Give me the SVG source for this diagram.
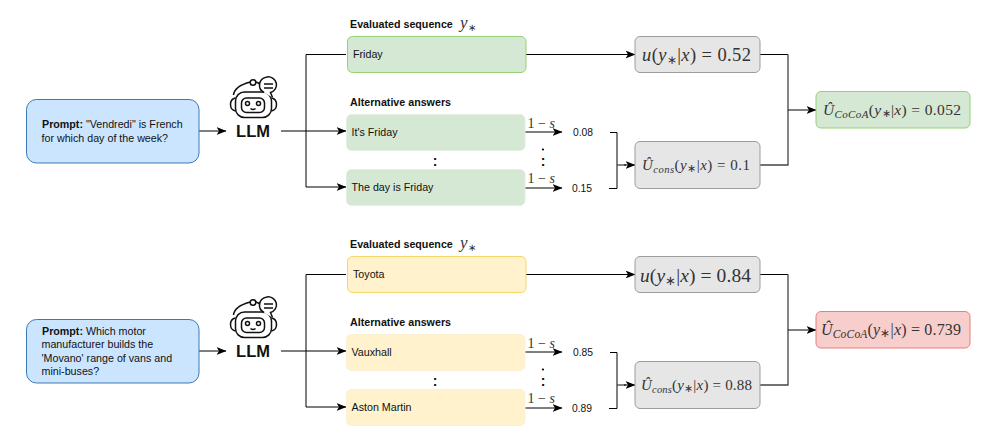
<svg xmlns="http://www.w3.org/2000/svg" width="996" height="437" viewBox="0 0 996 437">
<style>
text{font-family:"Liberation Sans",Arial,sans-serif;font-size:10.7px;fill:#111}
.b{font-weight:bold}
.llm{font-weight:bold;font-size:16.500px;text-anchor:middle;fill:#111}
.m{font-family:"Liberation Serif","Times New Roman",serif;fill:#333}
.i{font-style:italic}
.v{font-size:10.300px}
.s{font-size:14px}
.dots{font-weight:bold;font-size:14px;text-anchor:middle}
.prompt{fill:#cce5ff;stroke:#3b78b5}
.green{fill:#d5e8d4;stroke:#97d077}
.alt{fill:#d5e8d4;stroke:#e4efe2}
.yellow{fill:#fff2cc;stroke:#f5d76a}
.altY{fill:#fff2cc;stroke:#fbf0d2}
.grey{fill:#e6e6e6;stroke:#9c9c9c}
.red{fill:#f8cecc;stroke:#ea7f7a}
.c{fill:none;stroke:#000;stroke-width:1}
.c2{fill:none;stroke:#444;stroke-width:1.300}
.ic{fill:none;stroke:#111;stroke-width:1.500}
</style>
<defs>
<marker id="a" viewBox="0 0 10 8" refX="9.5" refY="4" markerWidth="10" markerHeight="8" markerUnits="userSpaceOnUse" orient="auto"><path d="M0 0L10 4L0 8L2.500 4Z" fill="#000"/></marker>
<g id="robot">
<rect x="235.500" y="92" width="36" height="25.500" rx="9" class="ic"/>
<rect x="241.500" y="98" width="23" height="14.500" rx="5" class="ic"/>
<circle cx="247.500" cy="103.500" r="2" class="ic"/>
<circle cx="258.500" cy="103.500" r="2" class="ic"/>
<path d="M250.500 108.500q2.500 2 5 0" class="ic"/>
<path d="M235.500 98q-5 1-5 6.500t5 6.500M271.500 98q5 1 5 6.500t-5 6.500" class="ic"/>
<path d="M233.500 95q1-9 17-13M256 82q3 1 5 3" class="ic"/>
<circle cx="253" cy="82.500" r="2.800" class="ic"/>
<path d="M264 92.500q-5-3-4.500-7.500a8.500 8 0 1 1 11 7.500l2 5" fill="#fff" stroke="#111" stroke-width="1.500"/>
<path d="M264 84h9M264 88h9" class="ic"/>
</g>
</defs>

<g id="connectors">
<path class="c" marker-end="url(#a)" d="M199 131H226"/>
<path class="c" marker-end="url(#a)" d="M281 131H346"/>
<path class="c" marker-end="url(#a)" d="M346 54.500H306V187H346"/>
<path class="c" marker-end="url(#a)" d="M526 54.500H635"/>
<path class="c" marker-end="url(#a)" d="M525 132H562"/>
<path class="c" marker-end="url(#a)" d="M525 188H562"/>
<path class="c" d="M610 132.500H617V188.500H609"/>
<path class="c2" d="M617 165H626"/>
<path class="c" marker-end="url(#a)" d="M624 165H635"/>
<path class="c" d="M760 54.500H788"/>
<path class="c2" d="M788 54.500V165H760"/>
<path class="c" marker-end="url(#a)" d="M788 110H816"/>

<path class="c" marker-end="url(#a)" d="M199 351H226"/>
<path class="c" marker-end="url(#a)" d="M281 351H346"/>
<path class="c" marker-end="url(#a)" d="M346 274.500H306V407H346"/>
<path class="c" marker-end="url(#a)" d="M526 274.500H635"/>
<path class="c" marker-end="url(#a)" d="M525 352H562"/>
<path class="c" marker-end="url(#a)" d="M525 408H562"/>
<path class="c" d="M610 352.500H617V408.500H609"/>
<path class="c2" d="M617 385H626"/>
<path class="c" marker-end="url(#a)" d="M624 385H635"/>
<path class="c" d="M760 274.500H788"/>
<path class="c2" d="M788 274.500V385H760"/>
<path class="c" marker-end="url(#a)" d="M788 330H816"/>
</g>

<g id="prompt1"><rect class="prompt" x="26.500" y="99.500" width="172.500" height="63.500" rx="10"/>
<text x="42" y="128"><tspan class="b">Prompt:</tspan> "Vendredi" is French</text><text x="41.500" y="141.500">for which day of the week?</text></g>
<g id="llm1"><use href="#robot"/><text class="llm" x="253" y="137">LLM</text></g>
<g id="evalLabel1"><text class="b" x="350" y="28">Evaluated sequence</text><text class="m i" x="460" y="28" style="font-size:17px">y<tspan dy="3" style="font-size:10px;font-style:normal">∗</tspan></text></g>
<g id="seq1"><rect class="green" x="347.500" y="36.500" width="178.500" height="36" rx="5"/><text x="353" y="58">Friday</text></g>
<g id="altLabel1"><text class="b" x="350" y="106">Alternative answers</text></g>
<g id="alt1a"><rect class="alt" x="346.500" y="114.500" width="178.500" height="36" rx="5"/><text x="351.500" y="135.500">It's Friday</text></g>
<text x="435" y="166" class="dots">:</text>
<g id="alt1b"><rect class="alt" x="346.500" y="169.500" width="178.500" height="36" rx="5"/><text x="351.500" y="191">The day is Friday</text></g>
<text class="m s" x="527.500" y="127.500">1 − <tspan class="i">s</tspan></text>
<text class="m s" x="527.500" y="182.500">1 − <tspan class="i">s</tspan></text>
<text class="v" x="573" y="135.500">0.08</text>
<text class="v" x="572" y="191.500">0.15</text>
<text x="543" y="166" class="dots">:</text>
<circle cx="543" cy="149.500" r="1.100" fill="#000"/>
<g id="u1"><rect class="grey" x="635" y="36.500" width="125" height="36" rx="5"/><text class="m" x="642" y="61" textLength="109" style="font-size:18.500px"><tspan class="i">u</tspan>(<tspan class="i">y</tspan><tspan dy="3" style="font-size:12px">∗</tspan><tspan dy="-3">|</tspan><tspan class="i">x</tspan>) = 0.52</text></g>
<g id="cons1"><rect class="grey" x="635" y="141.500" width="125" height="47" rx="5"/><text class="m" x="642" y="170" textLength="108" style="font-size:15px"><tspan class="i">Û</tspan><tspan class="i" dy="3" style="font-size:10.500px">cons</tspan><tspan dy="-3">(</tspan><tspan class="i">y</tspan><tspan dy="2" style="font-size:10.500px">∗</tspan><tspan dy="-2">|</tspan><tspan class="i">x</tspan>) = 0.1</text></g>
<g id="result1"><rect class="green" x="816" y="91.500" width="154" height="36.500" rx="5"/><text class="m" x="823" y="114.500" textLength="138" style="font-size:15.500px"><tspan class="i">Û</tspan><tspan class="i" dy="3" style="font-size:11px">CoCoA</tspan><tspan dy="-3">(</tspan><tspan class="i">y</tspan><tspan dy="2" style="font-size:11px">∗</tspan><tspan dy="-2">|</tspan><tspan class="i">x</tspan>) = 0.052</text></g>

<g id="prompt2"><rect class="prompt" x="26.500" y="319.500" width="172.500" height="63.500" rx="10"/>
<text x="42" y="335"><tspan class="b">Prompt:</tspan> Which motor</text><text x="41.500" y="348">manufacturer builds the</text><text x="41.500" y="361.500">'Movano' range of vans and</text><text x="41.500" y="374.500">mini-buses?</text></g>
<g id="llm2"><use href="#robot" y="220"/><text class="llm" x="253" y="357">LLM</text></g>
<g id="evalLabel2"><text class="b" x="350" y="248">Evaluated sequence</text><text class="m i" x="460" y="248" style="font-size:17px">y<tspan dy="3" style="font-size:10px;font-style:normal">∗</tspan></text></g>
<g id="seq2"><rect class="yellow" x="347.500" y="256.500" width="178.500" height="36" rx="5"/><text x="353" y="278">Toyota</text></g>
<g id="altLabel2"><text class="b" x="350" y="326">Alternative answers</text></g>
<g id="alt2a"><rect class="altY" x="346.500" y="334.500" width="178.500" height="36" rx="5"/><text x="351.500" y="355.500">Vauxhall</text></g>
<text x="435" y="386" class="dots">:</text>
<g id="alt2b"><rect class="altY" x="346.500" y="389.500" width="178.500" height="36" rx="5"/><text x="351.500" y="411">Aston Martin</text></g>
<text class="m s" x="527.500" y="347.500">1 − <tspan class="i">s</tspan></text>
<text class="m s" x="527.500" y="402.500">1 − <tspan class="i">s</tspan></text>
<text class="v" x="573" y="355.500">0.85</text>
<text class="v" x="572" y="411.500">0.89</text>
<text x="543" y="386" class="dots">:</text>
<circle cx="543" cy="369.500" r="1.100" fill="#000"/>
<g id="u2"><rect class="grey" x="635" y="256.500" width="125" height="36" rx="5"/><text class="m" x="640" y="281.500" textLength="111" style="font-size:19.500px"><tspan class="i">u</tspan>(<tspan class="i">y</tspan><tspan dy="3" style="font-size:12.500px">∗</tspan><tspan dy="-3">|</tspan><tspan class="i">x</tspan>) = 0.84</text></g>
<g id="cons2"><rect class="grey" x="635" y="361.500" width="125" height="47" rx="5"/><text class="m" x="641" y="390" textLength="111" style="font-size:15px"><tspan class="i">Û</tspan><tspan class="i" dy="3" style="font-size:10.500px">cons</tspan><tspan dy="-3">(</tspan><tspan class="i">y</tspan><tspan dy="2" style="font-size:10.500px">∗</tspan><tspan dy="-2">|</tspan><tspan class="i">x</tspan>) = 0.88</text></g>
<g id="result2"><rect class="red" x="816" y="311.500" width="154" height="36.500" rx="5"/><text class="m" x="821" y="335" textLength="140" style="font-size:16px"><tspan class="i">Û</tspan><tspan class="i" dy="3" style="font-size:11.500px">CoCoA</tspan><tspan dy="-3">(</tspan><tspan class="i">y</tspan><tspan dy="2" style="font-size:11.500px">∗</tspan><tspan dy="-2">|</tspan><tspan class="i">x</tspan>) = 0.739</text></g>
</svg>
